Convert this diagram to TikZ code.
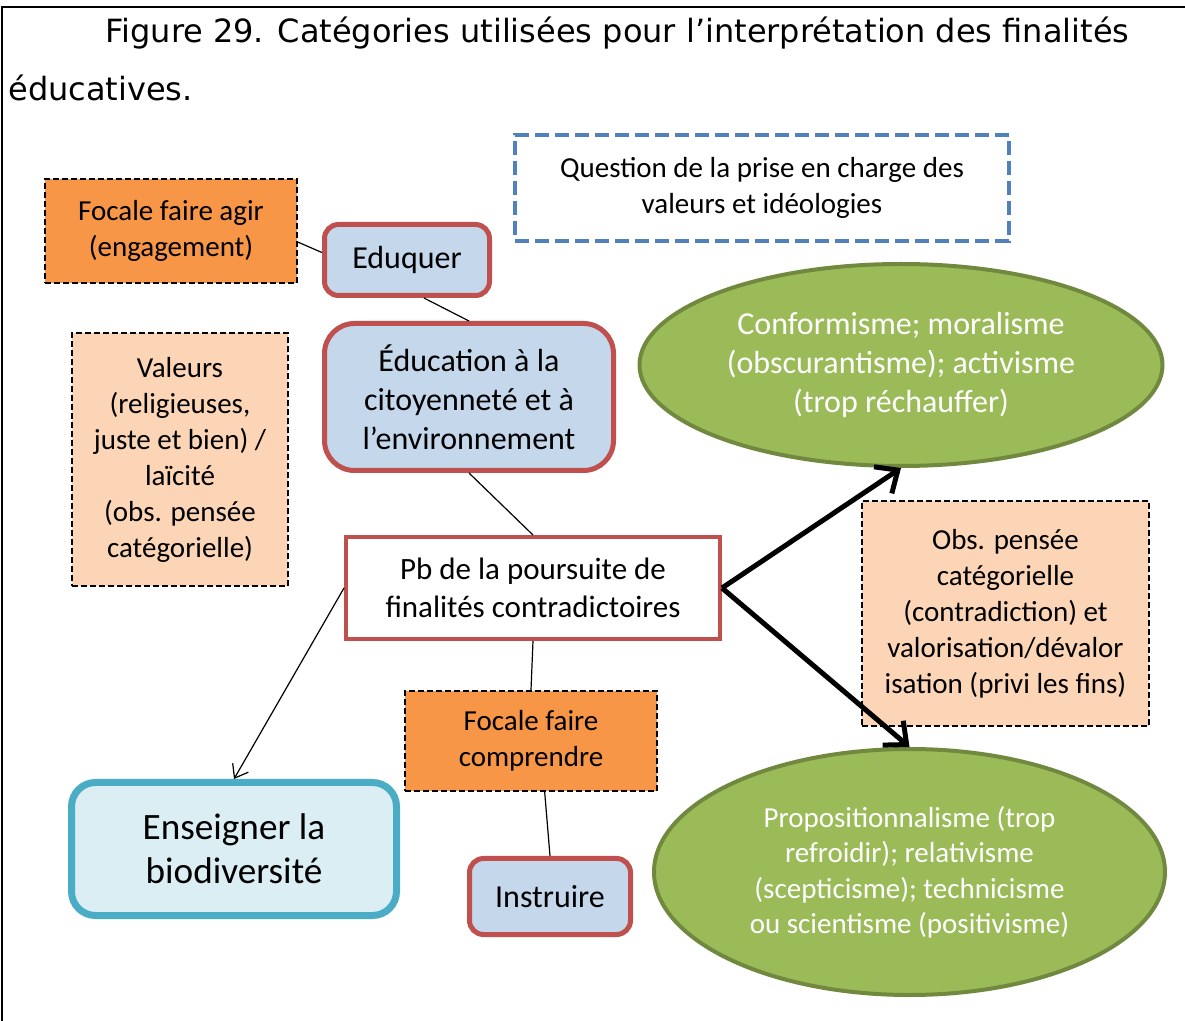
\documentclass[tikz,border=0pt]{standalone}
\usepackage{fontspec}
\setmainfont{Carlito}
\newfontfamily\titlefont{DejaVu Sans}
\usetikzlibrary{shapes.geometric,arrows.meta}
\definecolor{orangefoc}{HTML}{F79646}
\definecolor{peach}{HTML}{FBD5B5}
\definecolor{bluefill}{HTML}{C4D7EB}
\definecolor{redline}{HTML}{C0504D}
\definecolor{bluedash}{HTML}{4F81BD}
\definecolor{olive}{HTML}{9BBB59}
\definecolor{oliveline}{HTML}{71893F}
\definecolor{tealfill}{HTML}{DAEEF3}
\definecolor{tealline}{HTML}{4BACC6}

\begin{document}
\begin{tikzpicture}[x=0.5pt,y=-0.5pt]
\tikzstyle{every node}+=[inner sep=0pt, align=center]
\tikzstyle{boxtext}=[font=\fontsize{14.5}{18}\selectfont]
\tikzstyle{focale}=[boxtext, draw=black, fill=orangefoc, line width=1pt, dash pattern=on 3pt off 1.5pt]
\tikzstyle{obs}=[focale, fill=peach]
\tikzstyle{finalite}=[draw=redline, fill=bluefill, line width=2.5pt, rounded corners=7pt, font=\fontsize{16}{19.5}\selectfont]
\tikzstyle{posture}=[ellipse, draw=oliveline, fill=olive, line width=2pt, text=white]
\tikzstyle{lien}=[black, line width=0.6pt]
\tikzstyle{fleche}=[black, line width=2.5pt, -{Straight Barb[length=9pt,width=16pt]}]

% cadre et titre
\useasboundingbox (0,0) rectangle (1185,1021);
\draw [line width=1.2pt] (2,7) rectangle (1300,1100);
\node (titre1) [anchor=base west, font=\titlefont\fontsize{16}{18}\selectfont] at (105,43) {Figure 29. Catégories utilisées pour l’interprétation des finalités};
\node (titre2) [anchor=base west, font=\titlefont\fontsize{16}{18}\selectfont] at (8,101) {éducatives.};

% boites
\node (focagir) [focale, minimum width=126pt, minimum height=52pt] at (171,231) {Focale faire agir\\(engagement)};
\node (eduquer) [finalite, minimum width=82.5pt, minimum height=35.5pt] at (407,260) {Eduquer};
\node (question) [boxtext, draw=bluedash, line width=2pt, dash pattern=on 7pt off 3pt, minimum width=247pt, minimum height=53pt] at (762,188) {Question de la prise en charge des\\valeurs et idéologies};
\node (education) [finalite, rounded corners=15pt, minimum width=144.5pt, minimum height=73.5pt] at (469,397) {Éducation à la\\citoyenneté et à\\l’environnement};
\node (valeurs) [obs, minimum width=108pt, minimum height=126.5pt] at (180,460) {Valeurs\\(religieuses,\\juste et bien) /\\laïcité\\(obs. pensée\\catégorielle)};
\node (conformisme) [posture, minimum width=261.5pt, minimum height=101pt, font=\fontsize{16}{19.5}\selectfont] at (901,365) {Conformisme; moralisme\\(obscurantisme); activisme\\(trop réchauffer)};
\node (pb) [draw=redline, fill=white, line width=2pt, minimum width=187pt, minimum height=51pt, font=\fontsize{15.5}{19}\selectfont] at (533,588) {Pb de la poursuite de\\finalités contradictoires};
\node (obs) [obs, minimum width=143.5pt, minimum height=112.5pt] at (1005.5,613.5) {Obs. pensée\\catégorielle\\(contradiction) et\\valorisation/dévalor\\isation (privi les fins)};
\node (foccomp) [focale, minimum width=126pt, minimum height=50pt] at (531,741) {Focale faire\\comprendre};
\node (enseigner) [draw=tealline, fill=tealfill, line width=3.5pt, rounded corners=12pt, minimum width=162.5pt, minimum height=66.5pt, font=\fontsize{18.6}{22}\selectfont] at (234,849) {Enseigner la\\biodiversité};
\node (instruire) [finalite, minimum width=80.5pt, minimum height=38pt] at (550,896.5) {Instruire};
\node (proposition) [posture, minimum width=255.5pt, minimum height=123pt, font=\fontsize{14.5}{17.75}\selectfont] at (909.5,872) {Propositionnalisme (trop\\refroidir); relativisme\\(scepticisme); technicisme\\ou scientisme (positivisme)};

% liens
\draw [lien] (focagir.-5) -- (eduquer.175);
\draw [lien] (eduquer.-66) -- (education.north);
\draw [lien] (education.south) -- (pb.north);
\draw [lien] (pb.south) -- (foccomp.north);
\draw [lien] (foccomp.-75) -- (instruire.north);
\draw [lien, -{Straight Barb[length=6pt,width=9pt]}] (pb.west) -- (enseigner.north);
\draw [fleche] (pb.east) -- (conformisme.south);
\draw [fleche] (pb.east) -- (proposition.north);
\end{tikzpicture}
\end{document}
